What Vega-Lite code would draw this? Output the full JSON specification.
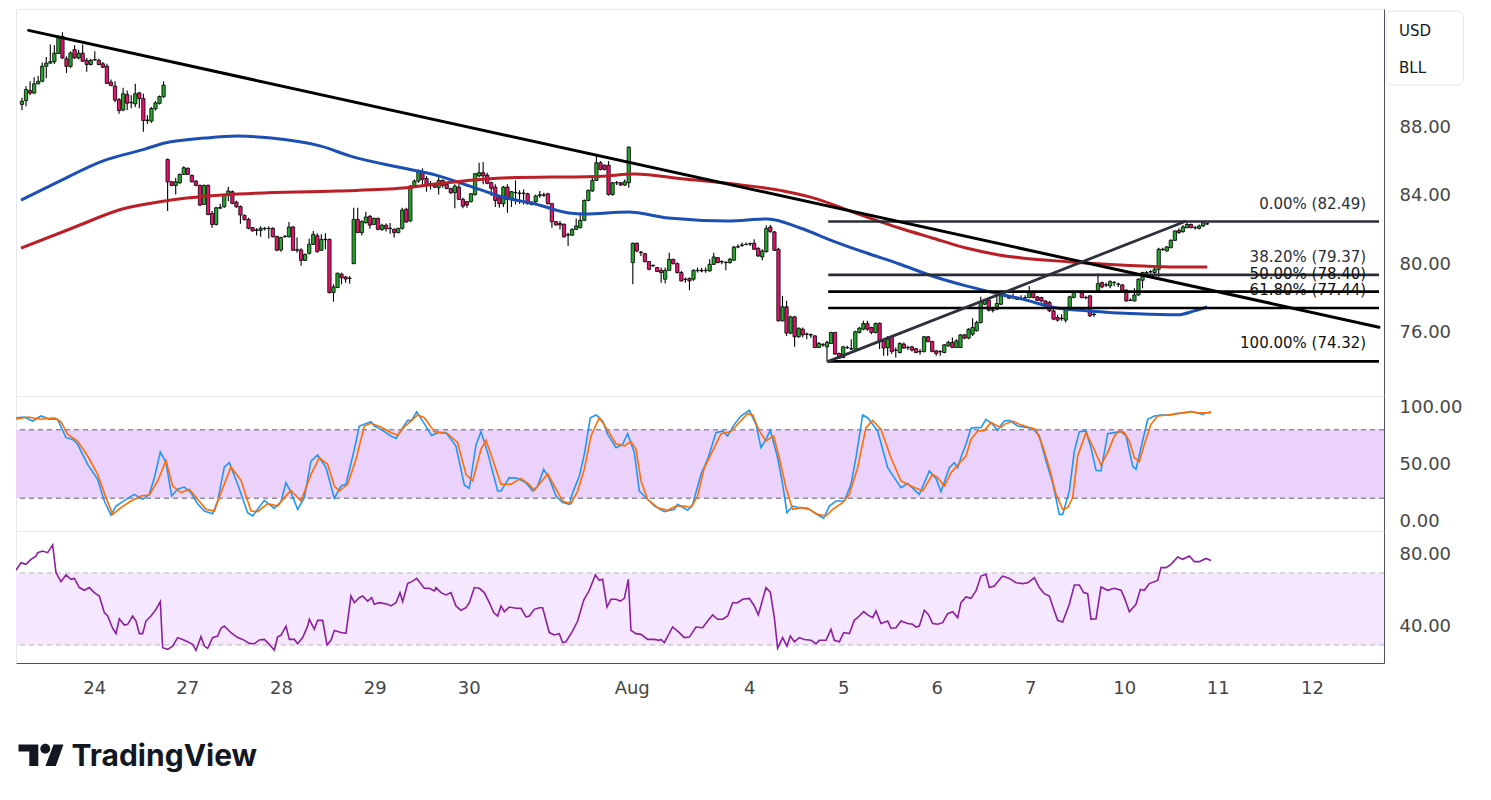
{
  "$schema": "https://vega.github.io/schema/vega-lite/v6.json",
  "padding": {"left": 15, "top": 8, "right": 0, "bottom": 0},
  "background": "#ffffff",
  "spacing": 0,
  "bounds": "flush",
  "config": {
    "font": "DejaVu Sans",
    "view": {"stroke": "#e6e8ee"},
    "axis": {"labelFont": "DejaVu Sans", "labelFontSize": 18, "labelColor": "#464646", "grid": false, "ticks": false, "domainColor": "#50535e", "labelOverlap": false, "labelFlush": false}
  },
  "datasets": {
    "bars": [
      {"i":0,"o":89.33,"h":89.71,"l":88.99,"c":89.52},{"i":1,"o":89.56,"h":90.39,"l":89.22,"c":90.2},{"i":2,"o":90.14,"h":90.68,"l":89.87,"c":89.99},{"i":3,"o":89.99,"h":90.91,"l":89.95,"c":90.53},{"i":4,"o":90.53,"h":91.0,"l":90.5,"c":90.68},{"i":5,"o":90.68,"h":91.78,"l":90.62,"c":91.56},{"i":6,"o":91.56,"h":92.1,"l":90.86,"c":91.74},{"i":7,"o":91.74,"h":92.82,"l":91.7,"c":91.82},{"i":8,"o":91.82,"h":92.78,"l":91.69,"c":92.32},{"i":9,"o":92.3,"h":93.37,"l":92.27,"c":93.25},
      {"i":10,"o":93.3,"h":93.54,"l":91.98,"c":92.04},{"i":11,"o":92.0,"h":92.14,"l":91.17,"c":91.55},{"i":12,"o":91.55,"h":92.43,"l":91.46,"c":92.33},{"i":13,"o":92.53,"h":92.78,"l":92.0,"c":92.04},{"i":14,"o":92.04,"h":92.5,"l":91.95,"c":92.32},{"i":15,"o":92.32,"h":92.82,"l":91.8,"c":91.85},{"i":16,"o":91.9,"h":92.04,"l":91.23,"c":91.66},{"i":17,"o":91.66,"h":92.0,"l":91.6,"c":91.9},{"i":18,"o":91.92,"h":92.43,"l":91.88,"c":91.95},{"i":19,"o":91.9,"h":92.0,"l":91.62,"c":91.66},
      {"i":20,"o":91.7,"h":91.8,"l":91.46,"c":91.5},{"i":21,"o":91.56,"h":91.7,"l":90.52,"c":90.55},{"i":22,"o":90.63,"h":90.78,"l":90.39,"c":90.43},{"i":23,"o":90.4,"h":90.68,"l":89.46,"c":89.58},{"i":24,"o":89.6,"h":89.7,"l":88.78,"c":88.97},{"i":25,"o":89.0,"h":90.3,"l":88.93,"c":89.95},{"i":26,"o":89.9,"h":90.14,"l":89.0,"c":89.4},{"i":27,"o":89.42,"h":89.87,"l":89.1,"c":89.45},{"i":28,"o":89.36,"h":90.53,"l":89.17,"c":89.95},{"i":29,"o":90.0,"h":90.06,"l":89.1,"c":89.67},
      {"i":30,"o":89.67,"h":89.95,"l":87.73,"c":88.39},{"i":31,"o":88.38,"h":88.7,"l":88.18,"c":88.42},{"i":32,"o":88.35,"h":89.17,"l":88.25,"c":89.09},{"i":33,"o":89.07,"h":89.52,"l":88.97,"c":89.42},{"i":34,"o":89.39,"h":89.85,"l":89.32,"c":89.79},{"i":35,"o":89.78,"h":90.68,"l":89.7,"c":90.45},{"i":36,"o":86.11,"h":86.17,"l":83.1,"c":84.81},{"i":37,"o":84.81,"h":84.85,"l":84.55,"c":84.6},{"i":38,"o":84.6,"h":85.04,"l":84.07,"c":84.81},{"i":39,"o":84.75,"h":85.3,"l":84.7,"c":85.24},
      {"i":40,"o":85.24,"h":85.72,"l":85.2,"c":85.63},{"i":41,"o":85.6,"h":85.65,"l":85.2,"c":85.24},{"i":42,"o":85.18,"h":85.24,"l":84.77,"c":84.81},{"i":43,"o":84.85,"h":84.9,"l":84.55,"c":84.6},{"i":44,"o":84.6,"h":84.65,"l":83.4,"c":83.45},{"i":45,"o":83.49,"h":84.65,"l":83.45,"c":84.6},{"i":46,"o":84.6,"h":84.65,"l":82.85,"c":82.9},{"i":47,"o":82.96,"h":83.1,"l":82.13,"c":82.32},{"i":48,"o":82.32,"h":83.35,"l":82.25,"c":83.29},{"i":49,"o":83.27,"h":83.53,"l":83.2,"c":83.31},
      {"i":50,"o":83.35,"h":84.1,"l":83.3,"c":84.03},{"i":51,"o":84.01,"h":84.52,"l":83.68,"c":84.27},{"i":52,"o":84.23,"h":84.3,"l":83.5,"c":83.55},{"i":53,"o":83.62,"h":83.7,"l":83.3,"c":83.35},{"i":54,"o":83.37,"h":83.43,"l":82.36,"c":82.87},{"i":55,"o":82.85,"h":82.9,"l":82.55,"c":82.6},{"i":56,"o":82.61,"h":82.71,"l":82.03,"c":82.09},{"i":57,"o":82.13,"h":82.17,"l":81.9,"c":81.94},{"i":58,"o":81.97,"h":82.09,"l":81.68,"c":82.0},{"i":59,"o":81.97,"h":82.21,"l":81.6,"c":82.09},
      {"i":60,"o":82.07,"h":82.17,"l":81.97,"c":82.09},{"i":61,"o":82.09,"h":82.21,"l":81.5,"c":82.07},{"i":62,"o":82.09,"h":82.15,"l":81.55,"c":81.6},{"i":63,"o":81.62,"h":81.66,"l":80.76,"c":80.81},{"i":64,"o":80.83,"h":81.6,"l":80.72,"c":81.55},{"i":65,"o":81.6,"h":81.7,"l":81.55,"c":81.62},{"i":66,"o":81.6,"h":82.46,"l":81.55,"c":82.17},{"i":67,"o":82.17,"h":82.23,"l":80.77,"c":80.81},{"i":68,"o":80.81,"h":81.55,"l":80.67,"c":80.85},{"i":69,"o":80.83,"h":80.93,"l":79.9,"c":80.22},
      {"i":70,"o":80.22,"h":80.62,"l":80.18,"c":80.57},{"i":71,"o":80.63,"h":81.49,"l":80.57,"c":81.16},{"i":72,"o":81.16,"h":81.93,"l":81.12,"c":81.74},{"i":73,"o":81.66,"h":81.8,"l":80.67,"c":80.73},{"i":74,"o":80.81,"h":81.74,"l":80.77,"c":81.45},{"i":75,"o":81.43,"h":81.8,"l":80.87,"c":81.45},{"i":76,"o":81.45,"h":81.49,"l":78.28,"c":78.34},{"i":77,"o":78.34,"h":78.82,"l":77.81,"c":78.67},{"i":78,"o":78.63,"h":79.5,"l":78.6,"c":79.47},{"i":79,"o":79.41,"h":79.5,"l":78.82,"c":79.21},
      {"i":80,"o":79.25,"h":79.31,"l":78.92,"c":79.13},{"i":81,"o":79.18,"h":79.31,"l":78.86,"c":79.17},{"i":82,"o":80.03,"h":83.29,"l":79.99,"c":82.61},{"i":83,"o":82.61,"h":83.29,"l":81.82,"c":81.84},{"i":84,"o":81.84,"h":82.56,"l":81.68,"c":82.48},{"i":85,"o":82.42,"h":83.06,"l":82.38,"c":82.75},{"i":86,"o":82.79,"h":82.87,"l":82.07,"c":82.28},{"i":87,"o":82.32,"h":82.73,"l":82.28,"c":82.67},{"i":88,"o":82.67,"h":82.73,"l":81.99,"c":82.03},{"i":89,"o":82.03,"h":82.36,"l":81.93,"c":82.27},
      {"i":90,"o":82.27,"h":82.38,"l":81.9,"c":82.07},{"i":91,"o":82.07,"h":82.4,"l":81.78,"c":82.1},{"i":92,"o":82.03,"h":82.09,"l":81.55,"c":81.84},{"i":93,"o":81.84,"h":82.13,"l":81.8,"c":82.09},{"i":94,"o":82.09,"h":83.29,"l":82.03,"c":83.16},{"i":95,"o":83.2,"h":83.29,"l":82.42,"c":82.46},{"i":96,"o":82.52,"h":84.62,"l":82.48,"c":84.56},{"i":97,"o":84.56,"h":84.95,"l":84.46,"c":84.85},{"i":98,"o":84.85,"h":85.53,"l":84.75,"c":85.4},{"i":99,"o":85.4,"h":85.59,"l":84.65,"c":84.95},
      {"i":100,"o":85.0,"h":85.14,"l":84.23,"c":84.6},{"i":101,"o":84.7,"h":84.85,"l":84.36,"c":84.68},{"i":102,"o":84.7,"h":84.75,"l":84.45,"c":84.5},{"i":103,"o":84.46,"h":85.2,"l":84.07,"c":84.89},{"i":104,"o":84.89,"h":84.95,"l":84.46,"c":84.6},{"i":105,"o":84.65,"h":84.7,"l":84.38,"c":84.42},{"i":106,"o":84.42,"h":84.46,"l":84.1,"c":84.17},{"i":107,"o":84.17,"h":84.66,"l":83.26,"c":84.56},{"i":108,"o":84.5,"h":84.66,"l":83.75,"c":83.78},{"i":109,"o":83.78,"h":83.88,"l":83.26,"c":83.39},
      {"i":110,"o":83.65,"h":83.69,"l":83.3,"c":83.45},{"i":111,"o":83.65,"h":84.15,"l":83.6,"c":84.11},{"i":112,"o":84.07,"h":85.32,"l":84.0,"c":85.28},{"i":113,"o":85.15,"h":85.92,"l":85.08,"c":85.34},{"i":114,"o":85.34,"h":85.96,"l":84.66,"c":85.15},{"i":115,"o":85.2,"h":85.34,"l":84.66,"c":84.72},{"i":116,"o":84.76,"h":84.81,"l":83.98,"c":84.43},{"i":117,"o":84.5,"h":84.66,"l":83.34,"c":83.72},{"i":118,"o":83.88,"h":83.96,"l":83.3,"c":83.53},{"i":119,"o":83.53,"h":84.56,"l":83.34,"c":84.5},
      {"i":120,"o":84.5,"h":84.66,"l":83.0,"c":83.78},{"i":121,"o":83.78,"h":84.27,"l":83.34,"c":84.23},{"i":122,"o":84.17,"h":84.89,"l":83.49,"c":84.19},{"i":123,"o":84.15,"h":84.31,"l":83.53,"c":84.13},{"i":124,"o":84.13,"h":84.36,"l":83.49,"c":84.15},{"i":125,"o":84.11,"h":84.17,"l":83.49,"c":83.53},{"i":126,"o":83.63,"h":83.65,"l":83.43,"c":83.49},{"i":127,"o":83.65,"h":84.07,"l":83.59,"c":83.98},{"i":128,"o":84.0,"h":84.27,"l":83.88,"c":84.05},{"i":129,"o":84.05,"h":84.17,"l":83.92,"c":84.03},
      {"i":130,"o":84.11,"h":84.17,"l":83.49,"c":83.53},{"i":131,"o":83.53,"h":83.59,"l":82.13,"c":82.48},{"i":132,"o":82.48,"h":82.52,"l":82.25,"c":82.29},{"i":133,"o":82.37,"h":82.52,"l":82.03,"c":82.29},{"i":134,"o":82.33,"h":82.37,"l":81.55,"c":81.59},{"i":135,"o":81.7,"h":81.84,"l":81.06,"c":81.72},{"i":136,"o":81.69,"h":82.09,"l":81.65,"c":82.03},{"i":137,"o":82.03,"h":82.67,"l":81.99,"c":82.23},{"i":138,"o":82.13,"h":82.91,"l":82.09,"c":82.56},{"i":139,"o":82.56,"h":83.78,"l":82.52,"c":83.72},
      {"i":140,"o":83.72,"h":84.36,"l":83.68,"c":84.31},{"i":141,"o":84.27,"h":85.05,"l":84.23,"c":84.89},{"i":142,"o":84.89,"h":86.45,"l":84.85,"c":85.92},{"i":143,"o":85.92,"h":86.02,"l":85.47,"c":85.53},{"i":144,"o":85.78,"h":85.82,"l":85.47,"c":85.53},{"i":145,"o":85.78,"h":86.02,"l":84.0,"c":84.07},{"i":146,"o":84.07,"h":84.8,"l":84.0,"c":84.75},{"i":147,"o":84.75,"h":84.85,"l":84.62,"c":84.77},{"i":148,"o":84.75,"h":84.8,"l":84.58,"c":84.62},{"i":149,"o":84.62,"h":84.95,"l":84.56,"c":84.81},
      {"i":150,"o":84.75,"h":86.89,"l":84.46,"c":86.83},{"i":151,"o":80.09,"h":81.26,"l":78.83,"c":81.22},{"i":152,"o":81.22,"h":81.26,"l":80.7,"c":80.77},{"i":153,"o":80.7,"h":80.77,"l":80.48,"c":80.67},{"i":154,"o":80.61,"h":80.65,"l":80.1,"c":80.15},{"i":155,"o":80.15,"h":80.19,"l":79.64,"c":79.7},{"i":156,"o":79.9,"h":79.98,"l":79.85,"c":79.93},{"i":157,"o":79.8,"h":79.84,"l":79.54,"c":79.57},{"i":158,"o":79.64,"h":79.8,"l":78.92,"c":79.51},{"i":159,"o":79.12,"h":79.8,"l":78.87,"c":79.64},
      {"i":160,"o":79.64,"h":80.67,"l":79.6,"c":80.28},{"i":161,"o":80.28,"h":80.32,"l":79.98,"c":80.03},{"i":162,"o":80.03,"h":80.09,"l":79.45,"c":79.51},{"i":163,"o":79.51,"h":79.6,"l":78.98,"c":79.02},{"i":164,"o":79.1,"h":79.22,"l":78.92,"c":79.12},{"i":165,"o":79.16,"h":79.22,"l":78.48,"c":79.02},{"i":166,"o":79.12,"h":79.7,"l":79.02,"c":79.64},{"i":167,"o":79.62,"h":79.8,"l":79.51,"c":79.64},{"i":168,"o":79.64,"h":79.78,"l":79.52,"c":79.6},{"i":169,"o":79.64,"h":79.8,"l":79.5,"c":79.62},
      {"i":170,"o":79.6,"h":80.28,"l":79.57,"c":79.99},{"i":171,"o":79.99,"h":80.67,"l":79.95,"c":80.42},{"i":172,"o":80.38,"h":80.42,"l":80.05,"c":80.09},{"i":173,"o":80.13,"h":80.23,"l":79.99,"c":80.15},{"i":174,"o":80.1,"h":80.19,"l":79.64,"c":80.09},{"i":175,"o":80.09,"h":80.38,"l":80.03,"c":80.28},{"i":176,"o":80.23,"h":81.06,"l":80.19,"c":81.0},{"i":177,"o":81.0,"h":81.16,"l":80.93,"c":81.02},{"i":178,"o":81.1,"h":81.26,"l":81.0,"c":81.12},{"i":179,"o":81.14,"h":81.26,"l":81.12,"c":81.16},
      {"i":180,"o":81.18,"h":81.26,"l":81.06,"c":81.2},{"i":181,"o":81.22,"h":81.45,"l":80.83,"c":80.87},{"i":182,"o":80.93,"h":80.97,"l":80.42,"c":80.48},{"i":183,"o":80.42,"h":80.87,"l":80.23,"c":80.77},{"i":184,"o":80.73,"h":82.27,"l":80.67,"c":82.09},{"i":185,"o":82.17,"h":82.29,"l":81.84,"c":81.9},{"i":186,"o":81.88,"h":81.94,"l":80.77,"c":80.81},{"i":187,"o":80.87,"h":80.96,"l":76.65,"c":76.69},{"i":188,"o":76.69,"h":78.15,"l":76.65,"c":77.51},{"i":189,"o":77.51,"h":77.86,"l":75.81,"c":75.97},
      {"i":190,"o":75.97,"h":76.98,"l":75.91,"c":76.92},{"i":191,"o":76.92,"h":76.98,"l":75.17,"c":75.76},{"i":192,"o":75.76,"h":76.3,"l":75.7,"c":76.26},{"i":193,"o":76.2,"h":76.3,"l":75.72,"c":75.87},{"i":194,"o":75.9,"h":76.01,"l":75.62,"c":75.92},{"i":195,"o":75.86,"h":75.95,"l":75.68,"c":75.88},{"i":196,"o":75.81,"h":75.85,"l":75.1,"c":75.13},{"i":197,"o":75.13,"h":75.46,"l":75.1,"c":75.37},{"i":198,"o":75.3,"h":75.4,"l":75.17,"c":75.28},{"i":199,"o":75.17,"h":75.52,"l":74.32,"c":75.43},
      {"i":200,"o":75.37,"h":76.05,"l":75.33,"c":76.01},{"i":201,"o":76.01,"h":76.05,"l":74.71,"c":74.75},{"i":202,"o":74.78,"h":74.84,"l":74.47,"c":74.51},{"i":203,"o":74.55,"h":75.23,"l":74.51,"c":75.17},{"i":204,"o":75.12,"h":75.23,"l":75.04,"c":75.14},{"i":205,"o":75.04,"h":75.62,"l":74.98,"c":75.06},{"i":206,"o":75.04,"h":76.11,"l":74.98,"c":76.05},{"i":207,"o":76.01,"h":76.34,"l":75.95,"c":76.26},{"i":208,"o":76.2,"h":76.69,"l":76.14,"c":76.53},{"i":209,"o":76.53,"h":76.69,"l":76.11,"c":76.2},
      {"i":210,"o":76.3,"h":76.34,"l":75.91,"c":76.01},{"i":211,"o":76.01,"h":76.59,"l":75.95,"c":76.53},{"i":212,"o":76.55,"h":76.59,"l":75.04,"c":75.52},{"i":213,"o":75.52,"h":75.62,"l":74.65,"c":75.1},{"i":214,"o":75.13,"h":75.81,"l":74.65,"c":75.62},{"i":215,"o":75.72,"h":75.81,"l":74.75,"c":74.9},{"i":216,"o":74.96,"h":75.13,"l":74.55,"c":74.98},{"i":217,"o":74.84,"h":75.43,"l":74.78,"c":75.37},{"i":218,"o":75.33,"h":75.43,"l":75.04,"c":75.1},{"i":219,"o":75.12,"h":75.23,"l":74.98,"c":75.14},
      {"i":220,"o":75.17,"h":75.23,"l":74.9,"c":74.98},{"i":221,"o":75.06,"h":75.1,"l":74.8,"c":74.84},{"i":222,"o":74.88,"h":75.04,"l":74.71,"c":74.9},{"i":223,"o":74.9,"h":75.81,"l":74.84,"c":75.76},{"i":224,"o":75.76,"h":75.81,"l":75.43,"c":75.48},{"i":225,"o":75.48,"h":75.52,"l":74.86,"c":74.9},{"i":226,"o":74.94,"h":74.98,"l":74.65,"c":74.78},{"i":227,"o":74.88,"h":74.98,"l":74.65,"c":74.9},{"i":228,"o":74.84,"h":75.33,"l":74.8,"c":75.29},{"i":229,"o":75.23,"h":75.52,"l":75.17,"c":75.43},
      {"i":230,"o":75.43,"h":75.72,"l":75.1,"c":75.13},{"i":231,"o":75.13,"h":75.62,"l":75.1,"c":75.52},{"i":232,"o":75.13,"h":75.91,"l":75.1,"c":75.87},{"i":233,"o":75.87,"h":75.91,"l":75.62,"c":75.68},{"i":234,"o":75.68,"h":76.26,"l":75.62,"c":76.2},{"i":235,"o":75.91,"h":76.84,"l":75.81,"c":76.3},{"i":236,"o":76.11,"h":76.69,"l":76.07,"c":76.59},{"i":237,"o":76.59,"h":78.09,"l":76.53,"c":77.76},{"i":238,"o":77.66,"h":77.95,"l":77.6,"c":77.9},{"i":239,"o":77.9,"h":78.01,"l":77.23,"c":77.31},
      {"i":240,"o":77.3,"h":77.43,"l":77.17,"c":77.32},{"i":241,"o":77.37,"h":78.34,"l":77.31,"c":77.7},{"i":242,"o":77.66,"h":78.4,"l":77.62,"c":78.15},{"i":243,"o":78.15,"h":78.34,"l":78.05,"c":78.17},{"i":244,"o":78.09,"h":78.13,"l":77.97,"c":78.01},{"i":245,"o":78.05,"h":78.28,"l":77.95,"c":78.07},{"i":246,"o":77.97,"h":78.03,"l":77.9,"c":77.95},{"i":247,"o":77.97,"h":78.19,"l":77.91,"c":77.99},{"i":248,"o":78.03,"h":78.19,"l":77.95,"c":78.05},{"i":249,"o":78.05,"h":78.73,"l":78.01,"c":78.34},
      {"i":250,"o":78.34,"h":78.38,"l":78.01,"c":78.05},{"i":251,"o":78.09,"h":78.13,"l":77.85,"c":77.89},{"i":252,"o":78.05,"h":78.09,"l":77.76,"c":77.85},{"i":253,"o":77.85,"h":77.89,"l":77.62,"c":77.66},{"i":254,"o":77.76,"h":77.85,"l":77.21,"c":77.27},{"i":255,"o":77.27,"h":77.37,"l":76.73,"c":76.79},{"i":256,"o":76.88,"h":77.04,"l":76.65,"c":76.73},{"i":257,"o":76.82,"h":77.08,"l":76.69,"c":76.84},{"i":258,"o":76.73,"h":77.43,"l":76.59,"c":77.37},{"i":259,"o":77.31,"h":78.15,"l":77.27,"c":78.09},
      {"i":260,"o":78.05,"h":78.44,"l":78.01,"c":78.34},{"i":261,"o":78.38,"h":78.45,"l":78.35,"c":78.4},{"i":262,"o":78.34,"h":78.44,"l":78.01,"c":78.05},{"i":263,"o":78.04,"h":78.15,"l":77.95,"c":78.05},{"i":264,"o":78.15,"h":78.2,"l":76.92,"c":76.98},{"i":265,"o":77.06,"h":77.17,"l":76.92,"c":77.08},{"i":266,"o":78.44,"h":79.45,"l":78.4,"c":78.86},{"i":267,"o":78.92,"h":78.98,"l":78.59,"c":78.67},{"i":268,"o":78.78,"h":78.92,"l":78.67,"c":78.79},{"i":269,"o":78.73,"h":79.06,"l":78.59,"c":78.98},
      {"i":270,"o":78.92,"h":79.02,"l":78.73,"c":78.93},{"i":271,"o":78.83,"h":78.92,"l":78.67,"c":78.84},{"i":272,"o":78.79,"h":78.83,"l":78.4,"c":78.44},{"i":273,"o":78.48,"h":78.54,"l":77.82,"c":77.85},{"i":274,"o":77.88,"h":78.01,"l":77.85,"c":77.89},{"i":275,"o":77.85,"h":78.59,"l":77.82,"c":78.2},{"i":276,"o":78.2,"h":79.18,"l":78.15,"c":79.12},{"i":277,"o":79.06,"h":79.56,"l":78.59,"c":79.51},{"i":278,"o":79.31,"h":79.6,"l":79.25,"c":79.51},{"i":279,"o":79.55,"h":79.64,"l":79.45,"c":79.56},
      {"i":280,"o":79.51,"h":79.8,"l":79.31,"c":79.7},{"i":281,"o":79.7,"h":80.96,"l":79.25,"c":80.87},{"i":282,"o":80.85,"h":80.96,"l":80.77,"c":80.87},{"i":283,"o":80.77,"h":81.06,"l":80.73,"c":81.0},{"i":284,"o":80.96,"h":81.45,"l":80.93,"c":81.39},{"i":285,"o":81.39,"h":81.97,"l":81.35,"c":81.94},{"i":286,"o":81.97,"h":82.09,"l":81.78,"c":81.84},{"i":287,"o":81.9,"h":82.28,"l":81.84,"c":82.17},{"i":288,"o":82.13,"h":82.42,"l":82.09,"c":82.32},{"i":289,"o":82.32,"h":82.36,"l":82.09,"c":82.13},
      {"i":290,"o":82.12,"h":82.23,"l":82.03,"c":82.13},{"i":291,"o":82.09,"h":82.32,"l":82.03,"c":82.23},{"i":292,"o":82.23,"h":82.49,"l":82.17,"c":82.42},{"i":293,"o":82.35,"h":82.42,"l":82.28,"c":82.36}
    ],
    "ma": [
      {"s":"b","i":-0.25,"p":83.74},{"s":"b","i":8.3,"p":84.73},{"s":"b","i":19.9,"p":86.02},{"s":"b","i":30.4,"p":86.72},{"s":"b","i":35.3,"p":87.07},{"s":"b","i":45.2,"p":87.36},{"s":"b","i":53.3,"p":87.48},{"s":"b","i":61.6,"p":87.36},{"s":"b","i":73.9,"p":86.89},{"s":"b","i":81.2,"p":86.31},{"s":"b","i":94.2,"p":85.61},{"s":"b","i":102.3,"p":85.2},{"s":"b","i":110.7,"p":84.56},{"s":"b","i":118.8,"p":83.92},{"s":"b","i":126.9,"p":83.51},{"s":"b","i":135.2,"p":82.99},{"s":"b","i":139.1,"p":82.93},{"s":"b","i":149.9,"p":83.04},{"s":"b","i":159.8,"p":82.69},{"s":"b","i":174.5,"p":82.52},{"s":"b","i":184.3,"p":82.64},{"s":"b","i":192.4,"p":82.11},{"s":"b","i":200.5,"p":81.35},{"s":"b","i":208.8,"p":80.65},{"s":"b","i":216.9,"p":80.01},{"s":"b","i":225,"p":79.31},{"s":"b","i":233.4,"p":78.73},{"s":"b","i":241.5,"p":78.26},{"s":"b","i":247.1,"p":77.97},{"s":"b","i":255.5,"p":77.45},{"s":"b","i":263.6,"p":77.27},{"s":"b","i":275.8,"p":77.1},{"s":"b","i":285.6,"p":77.04},{"s":"b","i":289.8,"p":77.27},{"s":"b","i":293,"p":77.5},
      {"s":"r","i":-0.25,"p":80.94},{"s":"r","i":12.5,"p":82.11},{"s":"r","i":24.8,"p":83.22},{"s":"r","i":35.3,"p":83.69},{"s":"r","i":53.3,"p":84.09},{"s":"r","i":77.8,"p":84.27},{"s":"r","i":94.2,"p":84.44},{"s":"r","i":102.3,"p":84.68},{"s":"r","i":118.8,"p":85.03},{"s":"r","i":143.3,"p":85.14},{"s":"r","i":151.4,"p":85.26},{"s":"r","i":163.7,"p":84.97},{"s":"r","i":175.9,"p":84.68},{"s":"r","i":188.2,"p":84.27},{"s":"r","i":196.6,"p":83.8},{"s":"r","i":204.7,"p":83.1},{"s":"r","i":216.9,"p":82.11},{"s":"r","i":225,"p":81.53},{"s":"r","i":233.4,"p":80.94},{"s":"r","i":241.5,"p":80.54},{"s":"r","i":247.1,"p":80.36},{"s":"r","i":259.4,"p":80.13},{"s":"r","i":271.7,"p":79.95},{"s":"r","i":283.9,"p":79.84},{"s":"r","i":293,"p":79.84}
    ],
    "trend": [
      {"name":"down","i1":1.64,"p1":93.65,"i2":335.46,"p2":76.32},
      {"name":"up","i1":199.3,"p1":74.32,"i2":287.5,"p2":82.49}
    ],
    "fib": [
      {"lvl":0,"lbl":"0.00% (82.49)","p":82.49},
      {"lvl":0.382,"lbl":"38.20% (79.37)","p":79.37},
      {"lvl":0.5,"lbl":"50.00% (78.40)","p":78.40},
      {"lvl":0.618,"lbl":"61.80% (77.44)","p":77.44},
      {"lvl":1,"lbl":"100.00% (74.32)","p":74.32}
    ],
    "stoch": [
      {"s":"k","i":-0.2,"v":90.6},{"s":"k","i":1.8,"v":91.2},{"s":"k","i":3.84,"v":87.7},{"s":"k","i":5.89,"v":92.1},{"s":"k","i":7.93,"v":89.2},{"s":"k","i":9.98,"v":89.2},{"s":"k","i":12.02,"v":73.1},{"s":"k","i":13.66,"v":71.6},{"s":"k","i":14.88,"v":67.3},{"s":"k","i":17.34,"v":49.7},{"s":"k","i":19.79,"v":36.5},{"s":"k","i":21.43,"v":17.5},{"s":"k","i":23.06,"v":5.3},{"s":"k","i":24.29,"v":13.1},{"s":"k","i":27.15,"v":19.9},{"s":"k","i":28.79,"v":23.4},{"s":"k","i":30.83,"v":19.0},{"s":"k","i":32.47,"v":23.4},{"s":"k","i":33.7,"v":38.0},{"s":"k","i":35.17,"v":60.5},{"s":"k","i":36.56,"v":51.2},{"s":"k","i":37.95,"v":21.9},{"s":"k","i":39.42,"v":27.8},{"s":"k","i":41.06,"v":29.8},{"s":"k","i":42.7,"v":24.8},{"s":"k","i":44.33,"v":15.2},{"s":"k","i":45.97,"v":8.8},{"s":"k","i":48.01,"v":6.4},{"s":"k","i":49.24,"v":17.5},{"s":"k","i":50.88,"v":47.4},{"s":"k","i":52.1,"v":51.2},{"s":"k","i":54.15,"v":32.2},{"s":"k","i":56.6,"v":7.3},{"s":"k","i":57.83,"v":4.4},{"s":"k","i":60.69,"v":18.1},{"s":"k","i":63.15,"v":11.1},{"s":"k","i":64.78,"v":17.0},{"s":"k","i":66.01,"v":33.6},{"s":"k","i":67.24,"v":24.9},{"s":"k","i":68.87,"v":10.2},{"s":"k","i":70.51,"v":20.5},{"s":"k","i":72.14,"v":52.6},{"s":"k","i":73.78,"v":57.9},{"s":"k","i":75.83,"v":46.8},{"s":"k","i":77.87,"v":19.9},{"s":"k","i":79.51,"v":30.7},{"s":"k","i":80.73,"v":32.2},{"s":"k","i":82.78,"v":62.9},{"s":"k","i":84.0,"v":83.3},{"s":"k","i":86.87,"v":87.1},{"s":"k","i":87.69,"v":83.3},{"s":"k","i":89.32,"v":80.4},{"s":"k","i":91.78,"v":74.6},{"s":"k","i":93.0,"v":72.5},{"s":"k","i":94.23,"v":79.5},{"s":"k","i":95.87,"v":88.3},{"s":"k","i":96.85,"v":88.3},{"s":"k","i":98.07,"v":95.9},{"s":"k","i":99.95,"v":85.4},{"s":"k","i":101.75,"v":75.1},{"s":"k","i":103.23,"v":77.5},{"s":"k","i":105.27,"v":77.5},{"s":"k","i":106.5,"v":71.6},{"s":"k","i":107.72,"v":65.8},{"s":"k","i":109.77,"v":31.6},{"s":"k","i":111.0,"v":28.7},{"s":"k","i":112.63,"v":66.7},{"s":"k","i":113.86,"v":78.4},{"s":"k","i":115.5,"v":60.0},{"s":"k","i":117.95,"v":26.3},
      {"s":"k","i":118.77,"v":26.3},{"s":"k","i":120.81,"v":38.0},{"s":"k","i":122.86,"v":37.4},{"s":"k","i":124.9,"v":33.6},{"s":"k","i":126.54,"v":26.3},{"s":"k","i":127.77,"v":30.7},{"s":"k","i":129.24,"v":45.3},{"s":"k","i":130.63,"v":37.4},{"s":"k","i":132.27,"v":21.9},{"s":"k","i":133.9,"v":16.1},{"s":"k","i":135.54,"v":14.6},{"s":"k","i":136.36,"v":24.9},{"s":"k","i":138.0,"v":39.5},{"s":"k","i":139.22,"v":58.4},{"s":"k","i":140.69,"v":90.6},{"s":"k","i":142.08,"v":93.0},{"s":"k","i":143.72,"v":87.7},{"s":"k","i":144.95,"v":76.0},{"s":"k","i":147.0,"v":64.3},{"s":"k","i":148.63,"v":67.3},{"s":"k","i":149.85,"v":76.6},{"s":"k","i":151.49,"v":60.0},{"s":"k","i":152.72,"v":26.3},{"s":"k","i":153.94,"v":21.9},{"s":"k","i":156.4,"v":13.2},{"s":"k","i":158.85,"v":8.2},{"s":"k","i":161.31,"v":10.2},{"s":"k","i":162.12,"v":14.6},{"s":"k","i":164.58,"v":9.4},{"s":"k","i":165.8,"v":14.6},{"s":"k","i":167.85,"v":40.9},{"s":"k","i":169.49,"v":54.1},{"s":"k","i":171.53,"v":77.5},{"s":"k","i":173.17,"v":79.0},{"s":"k","i":174.39,"v":74.6},{"s":"k","i":176.03,"v":84.8},{"s":"k","i":177.67,"v":92.1},{"s":"k","i":179.71,"v":97.1},{"s":"k","i":181.35,"v":84.8},{"s":"k","i":182.57,"v":64.3},{"s":"k","i":183.8,"v":71.6},{"s":"k","i":184.86,"v":79.5},{"s":"k","i":186.66,"v":55.5},{"s":"k","i":187.89,"v":32.2},{"s":"k","i":188.95,"v":7.3},{"s":"k","i":190.35,"v":13.1},{"s":"k","i":191.98,"v":11.7},{"s":"k","i":194.03,"v":11.1},{"s":"k","i":196.07,"v":6.4},{"s":"k","i":197.95,"v":2.3},{"s":"k","i":199.34,"v":13.1},{"s":"k","i":200.98,"v":17.5},{"s":"k","i":203.02,"v":17.5},{"s":"k","i":204.66,"v":32.2},{"s":"k","i":205.88,"v":55.5},{"s":"k","i":207.52,"v":93.0},{"s":"k","i":208.75,"v":90.6},{"s":"k","i":211.2,"v":79.0},{"s":"k","i":213.66,"v":46.8},{"s":"k","i":216.93,"v":29.2},{"s":"k","i":218.57,"v":32.8},{"s":"k","i":221.43,"v":23.4},{"s":"k","i":223.88,"v":43.9},{"s":"k","i":225.52,"v":37.4},{"s":"k","i":226.75,"v":25.7},{"s":"k","i":228.79,"v":46.8},{"s":"k","i":230.02,"v":51.2},{"s":"k","i":230.84,"v":46.8},{"s":"k","i":232.06,"v":60.0},{"s":"k","i":232.88,"v":67.3},{"s":"k","i":234.11,"v":81.3},{"s":"k","i":235.33,"v":81.9},{"s":"k","i":236.56,"v":81.9},{"s":"k","i":237.79,"v":89.2},{"s":"k","i":239.42,"v":84.8},{"s":"k","i":240.65,"v":79.5},{"s":"k","i":241.47,"v":84.2},
      {"s":"k","i":242.29,"v":87.7},{"s":"k","i":243.52,"v":88.3},{"s":"k","i":245.56,"v":83.3},{"s":"k","i":248.02,"v":81.9},{"s":"k","i":249.24,"v":81.3},{"s":"k","i":250.88,"v":74.6},{"s":"k","i":252.52,"v":52.6},{"s":"k","i":254.15,"v":33.6},{"s":"k","i":255.79,"v":5.8},{"s":"k","i":256.61,"v":5.8},{"s":"k","i":258.24,"v":26.3},{"s":"k","i":259.47,"v":61.4},{"s":"k","i":260.7,"v":78.4},{"s":"k","i":262.33,"v":79.0},{"s":"k","i":263.56,"v":64.3},{"s":"k","i":264.79,"v":44.4},{"s":"k","i":266.01,"v":43.9},{"s":"k","i":267.65,"v":76.6},{"s":"k","i":269.29,"v":77.5},{"s":"k","i":270.92,"v":78.4},{"s":"k","i":272.15,"v":74.6},{"s":"k","i":273.79,"v":48.2},{"s":"k","i":274.6,"v":45.3},{"s":"k","i":275.83,"v":64.3},{"s":"k","i":277.47,"v":89.2},{"s":"k","i":279.1,"v":92.1},{"s":"k","i":280.74,"v":93.0},{"s":"k","i":283.19,"v":93.0},{"s":"k","i":284.42,"v":94.2},{"s":"k","i":286.46,"v":95.0},{"s":"k","i":288.1,"v":95.9},{"s":"k","i":289.74,"v":95.0},{"s":"k","i":290.96,"v":93.6},{"s":"k","i":291.78,"v":94.7},{"s":"k","i":293.01,"v":95.9},
      {"s":"d","i":-0.25,"v":89.2},{"s":"d","i":2.61,"v":91.2},{"s":"d","i":5.89,"v":89.2},{"s":"d","i":9.16,"v":90.6},{"s":"d","i":10.79,"v":87.1},{"s":"d","i":12.43,"v":76.0},{"s":"d","i":14.88,"v":70.2},{"s":"d","i":17.34,"v":57.0},{"s":"d","i":19.79,"v":40.9},{"s":"d","i":21.84,"v":20.5},{"s":"d","i":23.47,"v":5.8},{"s":"d","i":25.52,"v":11.7},{"s":"d","i":27.97,"v":17.5},{"s":"d","i":30.43,"v":21.9},{"s":"d","i":32.47,"v":22.8},{"s":"d","i":34.52,"v":35.1},{"s":"d","i":36.56,"v":53.2},{"s":"d","i":38.2,"v":30.7},{"s":"d","i":40.24,"v":24.9},{"s":"d","i":42.29,"v":27.8},{"s":"d","i":44.33,"v":19.0},{"s":"d","i":46.38,"v":10.2},{"s":"d","i":48.42,"v":8.8},{"s":"d","i":50.06,"v":24.9},{"s":"d","i":52.51,"v":47.4},{"s":"d","i":54.97,"v":35.7},{"s":"d","i":57.42,"v":8.8},{"s":"d","i":59.06,"v":8.2},{"s":"d","i":61.51,"v":15.2},{"s":"d","i":63.96,"v":13.1},{"s":"d","i":65.6,"v":20.5},{"s":"d","i":67.24,"v":26.9},{"s":"d","i":69.69,"v":17.5},{"s":"d","i":72.14,"v":40.9},{"s":"d","i":74.19,"v":55.5},{"s":"d","i":76.23,"v":49.7},{"s":"d","i":77.87,"v":30.7},{"s":"d","i":79.1,"v":26.3},{"s":"d","i":81.14,"v":32.2},{"s":"d","i":83.19,"v":54.1},{"s":"d","i":85.23,"v":83.3},{"s":"d","i":86.87,"v":85.7},{"s":"d","i":89.32,"v":82.5},{"s":"d","i":91.78,"v":77.5},{"s":"d","i":93.41,"v":75.4},{"s":"d","i":95.05,"v":82.5},{"s":"d","i":98.32,"v":93.0},{"s":"d","i":99.95,"v":90.6},{"s":"d","i":102.41,"v":78.4},{"s":"d","i":105.68,"v":76.6},{"s":"d","i":108.13,"v":68.7},{"s":"d","i":110.18,"v":40.9},{"s":"d","i":111.82,"v":35.1},{"s":"d","i":113.86,"v":62.9},{"s":"d","i":115.09,"v":70.8},{"s":"d","i":116.72,"v":54.1},{"s":"d","i":118.77,"v":32.2},
      {"s":"d","i":121.22,"v":32.2},{"s":"d","i":123.68,"v":37.4},{"s":"d","i":125.72,"v":32.2},{"s":"d","i":126.95,"v":26.9},{"s":"d","i":128.18,"v":32.2},{"s":"d","i":130.22,"v":41.5},{"s":"d","i":131.86,"v":30.7},{"s":"d","i":133.9,"v":17.5},{"s":"d","i":135.95,"v":15.2},{"s":"d","i":137.58,"v":26.3},{"s":"d","i":139.22,"v":45.3},{"s":"d","i":140.86,"v":74.6},{"s":"d","i":142.9,"v":90.6},{"s":"d","i":144.54,"v":81.9},{"s":"d","i":147.0,"v":67.8},{"s":"d","i":149.04,"v":65.8},{"s":"d","i":150.67,"v":69.6},{"s":"d","i":151.9,"v":62.9},{"s":"d","i":153.13,"v":35.1},{"s":"d","i":154.76,"v":19.0},{"s":"d","i":157.22,"v":11.7},{"s":"d","i":159.67,"v":9.4},{"s":"d","i":161.71,"v":13.1},{"s":"d","i":163.76,"v":13.1},{"s":"d","i":165.4,"v":11.7},{"s":"d","i":167.03,"v":21.9},{"s":"d","i":168.67,"v":46.8},{"s":"d","i":171.12,"v":64.3},{"s":"d","i":172.76,"v":76.6},{"s":"d","i":175.21,"v":78.4},{"s":"d","i":176.85,"v":84.8},{"s":"d","i":179.3,"v":94.2},{"s":"d","i":180.53,"v":93.0},{"s":"d","i":182.16,"v":79.0},{"s":"d","i":183.8,"v":70.2},{"s":"d","i":185.68,"v":74.6},{"s":"d","i":187.07,"v":55.5},{"s":"d","i":188.71,"v":29.2},{"s":"d","i":190.35,"v":10.2},{"s":"d","i":192.39,"v":11.7},{"s":"d","i":194.44,"v":10.2},{"s":"d","i":196.48,"v":5.8},{"s":"d","i":198.53,"v":4.4},{"s":"d","i":200.16,"v":10.2},{"s":"d","i":202.61,"v":16.1},{"s":"d","i":204.25,"v":23.4},{"s":"d","i":206.29,"v":46.8},{"s":"d","i":208.34,"v":81.9},{"s":"d","i":209.98,"v":88.3},{"s":"d","i":212.02,"v":80.4},{"s":"d","i":214.47,"v":55.5},{"s":"d","i":216.93,"v":35.1},{"s":"d","i":219.38,"v":30.7},{"s":"d","i":222.24,"v":26.3},{"s":"d","i":224.7,"v":40.9},{"s":"d","i":225.93,"v":38.0},{"s":"d","i":227.56,"v":30.7},{"s":"d","i":229.2,"v":42.4},{"s":"d","i":230.84,"v":49.1},{"s":"d","i":232.88,"v":57.0},{"s":"d","i":234.11,"v":71.6},{"s":"d","i":235.74,"v":79.0},{"s":"d","i":237.38,"v":79.5},{"s":"d","i":239.02,"v":86.3},{"s":"d","i":240.65,"v":83.3},{"s":"d","i":241.47,"v":81.9},
      {"s":"d","i":242.29,"v":84.8},{"s":"d","i":244.34,"v":87.7},{"s":"d","i":245.97,"v":84.8},{"s":"d","i":248.02,"v":82.5},{"s":"d","i":250.06,"v":80.4},{"s":"d","i":251.7,"v":65.8},{"s":"d","i":253.33,"v":46.8},{"s":"d","i":254.97,"v":23.4},{"s":"d","i":256.61,"v":10.2},{"s":"d","i":257.84,"v":11.7},{"s":"d","i":259.06,"v":20.5},{"s":"d","i":260.29,"v":57.0},{"s":"d","i":262.33,"v":77.5},{"s":"d","i":263.97,"v":65.8},{"s":"d","i":266.01,"v":49.1},{"s":"d","i":267.65,"v":60.0},{"s":"d","i":269.29,"v":74.6},{"s":"d","i":270.51,"v":79.0},{"s":"d","i":271.74,"v":77.5},{"s":"d","i":272.97,"v":70.2},{"s":"d","i":274.19,"v":55.5},{"s":"d","i":275.42,"v":52.0},{"s":"d","i":276.65,"v":67.3},{"s":"d","i":278.28,"v":84.8},{"s":"d","i":279.92,"v":92.1},{"s":"d","i":282.37,"v":93.0},{"s":"d","i":284.83,"v":94.2},{"s":"d","i":288.1,"v":95.9},{"s":"d","i":289.74,"v":94.7},{"s":"d","i":291.37,"v":95.0},{"s":"d","i":293.01,"v":95.0}
    ],
    "rsi": [
      {"i":-0.25,"v":71.5},{"i":0.98,"v":75.7},{"i":2.2,"v":74.8},{"i":3.43,"v":77.6},{"i":4.66,"v":79.4},{"i":5.07,"v":81.3},{"i":6.3,"v":82.2},{"i":7.52,"v":81.3},{"i":8.75,"v":85.6},{"i":9.57,"v":70.2},{"i":10.79,"v":65.2},{"i":12.02,"v":68.9},{"i":13.25,"v":66.5},{"i":14.07,"v":67.0},{"i":15.29,"v":61.9},{"i":16.52,"v":60.4},{"i":17.75,"v":61.9},{"i":18.97,"v":59.1},{"i":20.2,"v":57.2},{"i":21.43,"v":48.0},{"i":22.25,"v":46.1},{"i":23.47,"v":39.3},{"i":24.29,"v":36.3},{"i":25.11,"v":44.6},{"i":26.34,"v":41.1},{"i":27.15,"v":41.5},{"i":28.38,"v":46.1},{"i":29.2,"v":43.3},{"i":30.02,"v":36.3},{"i":30.83,"v":36.3},{"i":31.65,"v":43.3},{"i":32.88,"v":46.1},{"i":34.11,"v":49.8},{"i":35.17,"v":54.1},{"i":35.74,"v":28.5},{"i":36.97,"v":27.6},{"i":38.2,"v":29.4},{"i":39.42,"v":34.1},{"i":40.65,"v":33.1},{"i":41.88,"v":31.8},{"i":43.1,"v":30.4},{"i":43.92,"v":27.0},{"i":45.15,"v":34.6},{"i":45.97,"v":29.4},{"i":46.79,"v":28.1},{"i":48.01,"v":34.1},{"i":49.24,"v":35.0},{"i":50.06,"v":39.3},{"i":50.88,"v":40.5},{"i":52.51,"v":36.8},{"i":54.15,"v":34.1},{"i":55.38,"v":33.1},{"i":57.01,"v":30.9},{"i":58.24,"v":30.7},{"i":59.47,"v":32.8},{"i":60.69,"v":33.1},{"i":61.51,"v":31.3},{"i":63.15,"v":27.2},{"i":63.96,"v":34.6},{"i":64.78,"v":35.4},{"i":66.01,"v":40.5},{"i":66.83,"v":33.1},{"i":68.05,"v":33.1},{"i":68.87,"v":30.7},{"i":70.1,"v":34.1},{"i":71.33,"v":40.5},{"i":71.74,"v":44.3},{"i":72.96,"v":38.7},{"i":73.78,"v":43.7},{"i":75.01,"v":43.7},{"i":76.07,"v":30.0},{"i":77.05,"v":32.6},{"i":77.87,"v":38.1},{"i":79.51,"v":36.9},{"i":80.73,"v":36.5},{"i":81.96,"v":57.2},{"i":82.78,"v":53.5},{"i":84.0,"v":56.3},{"i":84.82,"v":57.2},{"i":86.05,"v":54.4},{"i":87.03,"v":56.3},{"i":87.69,"v":52.6},{"i":88.91,"v":53.5},{"i":90.96,"v":52.6},{"i":91.78,"v":51.7},{"i":93.0,"v":53.5},{"i":93.98,"v":59.1},{"i":94.64,"v":54.1},{"i":95.87,"v":64.1},{"i":97.09,"v":65.5},{"i":98.07,"v":67.0},{"i":99.95,"v":61.5},{"i":101.18,"v":61.5},{"i":102.41,"v":60.0},{"i":102.82,"v":61.9},{"i":104.05,"v":59.1},{"i":105.27,"v":57.8},{"i":106.5,"v":59.1},{"i":107.72,"v":51.7},{"i":108.95,"v":49.3},{"i":110.18,"v":50.7},{"i":111.0,"v":53.5},{"i":112.23,"v":61.9},{"i":113.45,"v":61.5},{"i":114.68,"v":59.1},{"i":115.91,"v":53.5},{"i":116.97,"v":48.0},{"i":117.95,"v":46.1},{"i":118.77,"v":51.7},
      {"i":119.59,"v":48.5},{"i":120.81,"v":51.1},{"i":122.45,"v":50.4},{"i":123.68,"v":50.4},{"i":124.9,"v":45.6},{"i":125.72,"v":46.1},{"i":126.95,"v":49.8},{"i":128.18,"v":50.7},{"i":128.99,"v":50.7},{"i":130.63,"v":36.9},{"i":131.86,"v":35.6},{"i":133.08,"v":36.3},{"i":133.9,"v":31.3},{"i":134.72,"v":31.8},{"i":136.36,"v":37.8},{"i":137.58,"v":43.3},{"i":139.06,"v":54.8},{"i":140.45,"v":60.4},{"i":141.92,"v":68.9},{"i":142.9,"v":65.9},{"i":143.72,"v":66.5},{"i":144.78,"v":51.1},{"i":145.76,"v":55.4},{"i":146.99,"v":55.4},{"i":148.05,"v":54.4},{"i":149.04,"v":55.9},{"i":150.02,"v":66.5},{"i":150.67,"v":38.1},{"i":151.9,"v":36.3},{"i":153.13,"v":35.9},{"i":154.76,"v":33.1},{"i":156.4,"v":33.1},{"i":157.63,"v":32.6},{"i":158.03,"v":33.1},{"i":158.85,"v":31.3},{"i":160.9,"v":40.0},{"i":162.53,"v":36.9},{"i":163.76,"v":34.1},{"i":164.99,"v":34.4},{"i":166.62,"v":40.0},{"i":168.26,"v":39.6},{"i":169.49,"v":43.3},{"i":170.71,"v":46.7},{"i":171.94,"v":44.3},{"i":173.17,"v":44.3},{"i":174.39,"v":46.1},{"i":175.62,"v":53.5},{"i":176.85,"v":53.5},{"i":178.07,"v":55.4},{"i":179.71,"v":55.9},{"i":180.94,"v":51.7},{"i":181.92,"v":46.7},{"i":183.8,"v":61.9},{"i":184.86,"v":59.4},{"i":185.85,"v":45.2},{"i":186.66,"v":28.1},{"i":187.89,"v":34.1},{"i":188.95,"v":29.4},{"i":189.77,"v":35.0},{"i":190.75,"v":31.8},{"i":191.98,"v":34.1},{"i":193.21,"v":33.1},{"i":194.84,"v":32.6},{"i":196.07,"v":30.7},{"i":196.89,"v":32.6},{"i":198.53,"v":32.6},{"i":199.75,"v":38.7},{"i":200.57,"v":32.6},{"i":201.8,"v":31.8},{"i":202.86,"v":36.9},{"i":204.25,"v":36.3},{"i":205.48,"v":43.7},{"i":206.7,"v":46.1},{"i":207.77,"v":48.5},{"i":208.75,"v":46.7},{"i":209.98,"v":45.2},{"i":210.79,"v":48.9},{"i":212.02,"v":41.9},{"i":213.66,"v":43.3},{"i":214.47,"v":39.3},{"i":215.7,"v":39.6},{"i":216.93,"v":43.3},{"i":218.57,"v":41.9},{"i":219.79,"v":41.5},{"i":220.61,"v":40.0},{"i":221.43,"v":40.5},{"i":222.66,"v":49.3},{"i":223.64,"v":47.0},{"i":224.7,"v":41.9},{"i":225.93,"v":41.5},{"i":227.16,"v":42.4},{"i":228.38,"v":47.4},{"i":229.61,"v":48.5},{"i":230.84,"v":45.2},{"i":231.65,"v":53.5},{"i":232.88,"v":56.7},{"i":234.11,"v":55.9},{"i":235.33,"v":60.0},{"i":236.56,"v":68.3},{"i":237.79,"v":69.3},{"i":238.6,"v":61.9},{"i":239.83,"v":62.8},{"i":241.47,"v":67.4},
      {"i":241.88,"v":68.3},{"i":243.52,"v":67.0},{"i":245.15,"v":64.6},{"i":246.79,"v":64.1},{"i":248.02,"v":64.6},{"i":248.84,"v":65.9},{"i":249.65,"v":67.4},{"i":250.88,"v":61.9},{"i":252.11,"v":58.5},{"i":253.33,"v":57.2},{"i":254.56,"v":48.9},{"i":255.38,"v":43.7},{"i":256.61,"v":42.8},{"i":258.24,"v":52.6},{"i":259.47,"v":63.3},{"i":260.7,"v":63.3},{"i":261.76,"v":59.1},{"i":262.74,"v":58.5},{"i":263.56,"v":44.3},{"i":264.79,"v":44.6},{"i":266.01,"v":62.2},{"i":267.65,"v":60.4},{"i":269.29,"v":61.5},{"i":270.92,"v":60.4},{"i":271.74,"v":56.3},{"i":272.97,"v":48.5},{"i":274.6,"v":52.6},{"i":275.67,"v":60.9},{"i":276.65,"v":60.4},{"i":277.87,"v":64.1},{"i":279.92,"v":65.9},{"i":280.74,"v":73.0},{"i":281.96,"v":73.0},{"i":283.19,"v":74.8},{"i":284.83,"v":78.9},{"i":286.05,"v":77.6},{"i":287.69,"v":79.4},{"i":288.92,"v":76.3},{"i":290.14,"v":76.3},{"i":291.78,"v":78.1},{"i":293.01,"v":77.0}
    ]
  },
  "vconcat": [
    {
      "width": 1368,
      "height": 387,
      "layer": [
        {
          "data": {"name": "bars"},
          "mark": {"type": "rule", "color": "#000000", "strokeWidth": 1.1, "clip": true},
          "encoding": {
            "x": {"field": "i", "type": "quantitative", "scale": {"domain": [-0.245, 335.46], "nice": false, "zero": false}, "axis": null},
            "y": {"field": "l", "type": "quantitative", "scale": {"domain": [72.3, 94.9], "nice": false, "zero": false},
                  "axis": {"orient": "right", "values": [76, 80, 84, 88], "format": ".2f", "title": null, "labelPadding": 15, "zindex": 1}},
            "y2": {"field": "h"}
          }
        },
        {
          "data": {"name": "bars"},
          "mark": {"type": "bar", "width": 3.3, "stroke": "#000000", "strokeWidth": 0.8, "clip": true},
          "encoding": {
            "x": {"field": "i", "type": "quantitative"},
            "y": {"field": "o", "type": "quantitative"},
            "y2": {"field": "c"},
            "fill": {"condition": {"test": "datum.c >= datum.o", "value": "#22a62c"}, "value": "#e5136d"}
          }
        },
        {
          "data": {"name": "ma"},
          "transform": [{"filter": "datum.s == 'b'"}],
          "mark": {"type": "line", "color": "#1c4fb3", "strokeWidth": 3, "interpolate": "monotone", "clip": true},
          "encoding": {"x": {"field": "i", "type": "quantitative"}, "y": {"field": "p", "type": "quantitative"}}
        },
        {
          "data": {"name": "ma"},
          "transform": [{"filter": "datum.s == 'r'"}],
          "mark": {"type": "line", "color": "#bb1f26", "strokeWidth": 3, "interpolate": "monotone", "clip": true},
          "encoding": {"x": {"field": "i", "type": "quantitative"}, "y": {"field": "p", "type": "quantitative"}}
        },
        {
          "data": {"name": "fib"},
          "mark": {"type": "rule", "strokeWidth": 2.7, "clip": true},
          "encoding": {
            "x": {"datum": 199.3, "type": "quantitative"},
            "x2": {"datum": 335.46},
            "y": {"field": "p", "type": "quantitative"},
            "color": {"condition": {"test": "datum.lvl < 0.4", "value": "#2a2d38"}, "value": "#000000"}
          }
        },
        {
          "data": {"name": "fib"},
          "mark": {"type": "text", "align": "right", "baseline": "middle", "dy": -18, "fontSize": 15, "font": "DejaVu Sans"},
          "encoding": {
            "x": {"datum": 332.3, "type": "quantitative"},
            "y": {"field": "p", "type": "quantitative"},
            "text": {"field": "lbl"},
            "color": {"condition": {"test": "datum.lvl < 0.4", "value": "#2a2d38"}, "value": "#111111"}
          }
        },
        {
          "data": {"name": "trend"},
          "mark": {"type": "rule", "clip": true, "strokeCap": "round"},
          "encoding": {
            "x": {"field": "i1", "type": "quantitative"},
            "x2": {"field": "i2"},
            "y": {"field": "p1", "type": "quantitative"},
            "y2": {"field": "p2"},
            "color": {"condition": {"test": "datum.name == 'down'", "value": "#000000"}, "value": "#2e313b"},
            "strokeWidth": {"condition": {"test": "datum.name == 'down'", "value": 3}, "value": 2.8}
          }
        },
        {
          "data": {"values": [{"box": "symbol"}]},
          "mark": {"type": "rect", "fill": "#ffffff", "stroke": "#e3e5eb", "strokeWidth": 1, "cornerRadius": 6, "clip": false},
          "encoding": {
            "x": {"datum": 337.18, "type": "quantitative"},
            "x2": {"datum": 356.32},
            "y": {"datum": 94.78, "type": "quantitative"},
            "y2": {"datum": 90.46}
          }
        },
        {
          "data": {"values": [{"t": "USD", "p": 93.62}, {"t": "BLL", "p": 91.45}]},
          "mark": {"type": "text", "align": "left", "baseline": "middle", "fontSize": 15, "font": "DejaVu Sans", "color": "#131722", "clip": false},
          "encoding": {
            "x": {"datum": 340.4, "type": "quantitative"},
            "y": {"field": "p", "type": "quantitative"},
            "text": {"field": "t"}
          }
        }
      ]
    },
    {
      "width": 1368,
      "height": 135,
      "layer": [
        {
          "data": {"values": [{"lo": 20, "hi": 80}]},
          "mark": {"type": "rect", "color": "#ead2fb"},
          "encoding": {
            "y": {"field": "hi", "type": "quantitative", "scale": {"domain": [-8.77, 109.65], "nice": false, "zero": false},
                  "axis": {"orient": "right", "values": [0, 50, 100], "format": ".2f", "title": null, "labelPadding": 15, "zindex": 1}},
            "y2": {"field": "lo"}
          }
        },
        {
          "data": {"values": [{"lvl": 20}, {"lvl": 80}]},
          "mark": {"type": "rule", "color": "#5d606b", "strokeWidth": 1, "strokeDash": [5, 4]},
          "encoding": {"y": {"field": "lvl", "type": "quantitative"}}
        },
        {
          "data": {"name": "stoch"},
          "transform": [{"filter": "datum.s == 'k'"}],
          "mark": {"type": "line", "color": "#2196f3", "strokeWidth": 1.6, "clip": true},
          "encoding": {
            "x": {"field": "i", "type": "quantitative", "scale": {"domain": [-0.245, 335.46], "nice": false, "zero": false}, "axis": null},
            "y": {"field": "v", "type": "quantitative"}
          }
        },
        {
          "data": {"name": "stoch"},
          "transform": [{"filter": "datum.s == 'd'"}],
          "mark": {"type": "line", "color": "#ff6d00", "strokeWidth": 1.6, "clip": true},
          "encoding": {
            "x": {"field": "i", "type": "quantitative"},
            "y": {"field": "v", "type": "quantitative"}
          }
        }
      ]
    },
    {
      "width": 1368,
      "height": 132,
      "layer": [
        {
          "data": {"values": [{"lo": 30, "hi": 70}]},
          "mark": {"type": "rect", "color": "#f5e7fd"},
          "encoding": {
            "y": {"field": "hi", "type": "quantitative", "scale": {"domain": [20, 93.33], "nice": false, "zero": false},
                  "axis": {"orient": "right", "values": [40, 80], "format": ".2f", "title": null, "labelPadding": 15, "zindex": 1}},
            "y2": {"field": "lo"}
          }
        },
        {
          "data": {"values": [{"lvl": 30}, {"lvl": 70}]},
          "mark": {"type": "rule", "color": "#b4b6be", "strokeWidth": 1, "strokeDash": [5, 4]},
          "encoding": {"y": {"field": "lvl", "type": "quantitative"}}
        },
        {
          "data": {"name": "rsi"},
          "mark": {"type": "line", "color": "#8c1f9f", "strokeWidth": 1.6, "clip": true},
          "encoding": {
            "x": {"field": "i", "type": "quantitative", "scale": {"domain": [-0.245, 335.46], "nice": false, "zero": false},
                  "axis": {"orient": "bottom", "title": null, "labelPadding": 16, "zindex": 1,
                           "values": [18.97, 41.79, 64.79, 87.78, 110.85, 150.85, 179.71, 202.77, 225.69, 248.66, 271.73, 294.65, 317.79],
                           "labelExpr": "datum.value < 30 ? '24' : datum.value < 50 ? '27' : datum.value < 75 ? '28' : datum.value < 100 ? '29' : datum.value < 130 ? '30' : datum.value < 165 ? 'Aug' : datum.value < 190 ? '4' : datum.value < 215 ? '5' : datum.value < 237 ? '6' : datum.value < 260 ? '7' : datum.value < 283 ? '10' : datum.value < 305 ? '11' : '12'"}},
            "y": {"field": "v", "type": "quantitative"}
          }
        }
      ]
    },
    {
      "width": 1368,
      "height": 138,
      "view": {"stroke": null},
      "data": {"values": [{"brand": "TradingView", "lx": 1.827, "ly": 66.8, "tx": 4.05, "ty": 74.6}]},
      "layer": [
        {
          "mark": {"type": "point", "filled": true, "opacity": 1, "color": "#131722", "size": 2025,
                   "shape": "M-1,-0.48H-0.12V0.48H-0.52V-0.16H-1Z M0.19,-0.51A0.22,0.22,0,1,1,0.19,-0.07A0.22,0.22,0,1,1,0.19,-0.51Z M0.56,-0.48H1L0.66,0.48H0.2Z"},
          "encoding": {
            "x": {"field": "lx", "type": "quantitative", "scale": {"domain": [0, 100], "nice": false, "zero": false}, "axis": null},
            "y": {"field": "ly", "type": "quantitative", "scale": {"domain": [0, 100], "nice": false, "zero": false, "reverse": true}, "axis": null}
          }
        },
        {
          "mark": {"type": "text", "align": "left", "baseline": "alphabetic", "font": "Inter", "fontWeight": "bold", "fontSize": 30, "color": "#131722"},
          "encoding": {
            "x": {"field": "tx", "type": "quantitative"},
            "y": {"field": "ty", "type": "quantitative"},
            "text": {"field": "brand"}
          }
        }
      ]
    }
  ]
}
